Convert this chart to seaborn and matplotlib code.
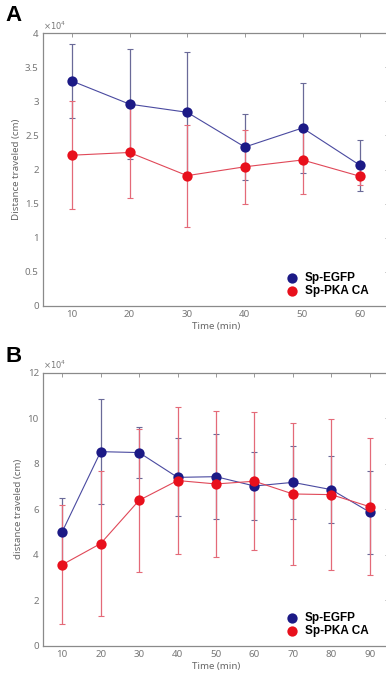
import numpy as np
import pandas as pd
import seaborn as sns
import matplotlib.pyplot as plt

# Panel A: 10-60 min
time_a = [10, 20, 30, 40, 50, 60]
egfp_a = [3.30, 2.96, 2.84, 2.33, 2.61, 2.06]
egfp_a_sd = [0.55, 0.81, 0.88, 0.48, 0.66, 0.38]
pka_a = [2.21, 2.25, 1.91, 2.04, 2.14, 1.90]
pka_a_sd = [0.79, 0.67, 0.75, 0.54, 0.50, 0.13]

# Panel B: 10-90 min
time_b = [10, 20, 30, 40, 50, 60, 70, 80, 90]
egfp_b = [5.01, 8.53, 8.49, 7.40, 7.43, 7.02, 7.18, 6.86, 5.87]
egfp_b_sd = [1.50, 2.31, 1.14, 1.72, 1.87, 1.50, 1.60, 1.47, 1.82]
pka_b = [3.56, 4.49, 6.39, 7.26, 7.11, 7.23, 6.67, 6.64, 6.11]
pka_b_sd = [2.62, 3.17, 3.13, 3.25, 3.20, 3.04, 3.12, 3.32, 3.00]

groups = ["Sp-EGFP", "Sp-PKA CA"]
colors = {"Sp-EGFP": "#1c1a86", "Sp-PKA CA": "#e8101c"}
bar_colors = {"Sp-EGFP": "#6a6a98", "Sp-PKA CA": "#e46a78"}
line_colors = {"Sp-EGFP": "#4a4aa0", "Sp-PKA CA": "#e04858"}

sns.set_style("white")
plt.rcParams['font.family'] = ['Noto Sans', 'DejaVu Sans']

fig = plt.figure(figsize=(3.86, 6.74), dpi=100)
ax_a = fig.add_axes([0.1114, 0.5464, 0.8964, 0.4042])
ax_b = fig.add_axes([0.1114, 0.0420, 0.8964, 0.4050])

grey = "#8a8a8a"


def draw_panel(ax, t, m1, s1, m2, s2):
    df = pd.DataFrame({
        "time": t + t,
        "dist": m1 + m2,
        "sd": s1 + s2,
        "group": [groups[0]] * len(t) + [groups[1]] * len(t),
    })
    for g in groups:
        d = df[df.group == g]
        ax.errorbar(d.time, d.dist, yerr=d.sd, fmt="none", ecolor=bar_colors[g],
                    elinewidth=0.9, capsize=2.2, capthick=0.8, zorder=2)
        ax.plot(d.time, d.dist, color=line_colors[g], lw=0.8, zorder=3)
        sns.scatterplot(data=d, x="time", y="dist", color=colors[g], s=55,
                        edgecolor=colors[g], linewidth=0, ax=ax, zorder=4, label=g)
    ax.set_xlabel("Time (min)", color="#666666", fontsize=7, labelpad=2)
    for sp in ax.spines.values():
        sp.set_color(grey)
        sp.set_linewidth(0.9)
    ax.tick_params(direction="in", top=True, right=True, length=3, width=0.6,
                   color=grey, labelcolor="#777777", labelsize=7, pad=3)
    leg = ax.legend(loc="lower right", frameon=False, handletextpad=0.1,
                    borderaxespad=0.3, labelspacing=0.15,
                    prop={"family": "Liberation Sans", "weight": "bold", "size": 8.5},
                    markerscale=1.0, bbox_to_anchor=(0.965, 0.0))
    for txt in leg.get_texts():
        txt.set_color("black")
    ax.text(0.0, 1.005, r"$\times10^{4}$", transform=ax.transAxes, color="#777777",
            fontsize=6, ha="left", va="bottom")


draw_panel(ax_a, time_a, egfp_a, egfp_a_sd, pka_a, pka_a_sd)
ax_a.set_xlim(5, 65)
ax_a.set_ylim(0, 4)
ax_a.set_xticks(time_a)
ax_a.set_yticks(np.arange(0, 4.01, 0.5))
ax_a.set_yticklabels(["0", "0.5", "1", "1.5", "2", "2.5", "3", "3.5", "4"])
ax_a.set_ylabel("Distance traveled (cm)", color="#666666", fontsize=7, labelpad=3)

draw_panel(ax_b, time_b, egfp_b, egfp_b_sd, pka_b, pka_b_sd)
ax_b.set_xlim(5, 95)
ax_b.set_ylim(0, 12)
ax_b.set_xticks(time_b)
ax_b.set_yticks(np.arange(0, 12.1, 2))
ax_b.set_yticklabels(["0", "2", "4", "6", "8", "10", "12"])
ax_b.set_ylabel("distance traveled (cm)", color="#666666", fontsize=7, labelpad=3)

fig.text(0.013, 0.993, "A", fontsize=16, fontweight="bold", family="Liberation Sans",
         color="black", va="top", ha="left")
fig.text(0.013, 0.486, "B", fontsize=16, fontweight="bold", family="Liberation Sans",
         color="black", va="top", ha="left")

fig.savefig("out.png", dpi=100)
